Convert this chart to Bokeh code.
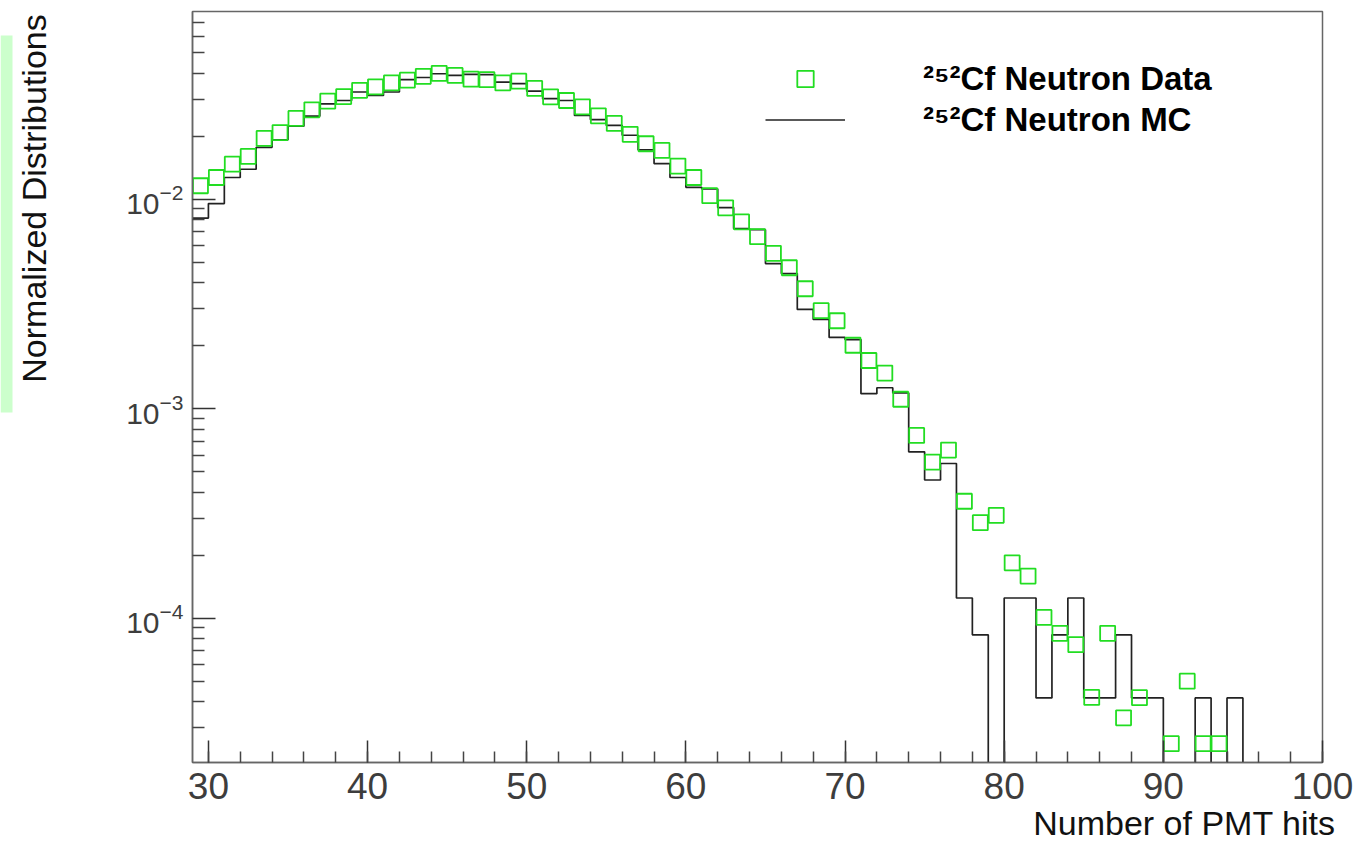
import numpy as np
from bokeh.plotting import figure
from bokeh.layouts import row
from bokeh.models import FixedTicker, Label, Legend, LegendItem, BoxAnnotation, Title
from bokeh.embed import file_html
from bokeh.resources import INLINE

# ---------------- data (bins of width 1, lower edges 29..99) ----------------
bin_lo = list(range(29, 100))

data_vals = [
    0.0116, 0.0127, 0.0147, 0.0160, 0.0195, 0.0208, 0.0243, 0.0267, 0.0294, 0.0309,   # 29-38
    0.0331, 0.0344, 0.0359, 0.0370, 0.0386, 0.0399, 0.0390, 0.0374, 0.0372, 0.0359,   # 39-48
    0.0366, 0.0338, 0.0308, 0.0296, 0.0276, 0.0250, 0.0230, 0.0204, 0.0184, 0.0171,   # 49-58
    0.0144, 0.0127, 0.0104, 0.00910, 0.00779, 0.00663, 0.00552, 0.00471, 0.00374, 0.00294,  # 59-68
    0.00263, 0.00201, 0.00170, 0.00148, 0.00111, 0.000746, 0.000556, 0.000635, 0.000362, 0.000286,  # 69-78
    0.000310, 0.000184, 0.000159, 0.000101, 0.0000848, 0.0000748, 0.0000419, 0.0000848, 0.0000335, 0.0000418,  # 79-88
    0.0, 0.0000252, 0.0000501, 0.0000252, 0.0000252, 0.0, 0.0, 0.0, 0.0, 0.0,   # 89-98
    0.0,   # 99
]

mc_vals = [
    0.00813, 0.00953, 0.0127, 0.0139, 0.0177, 0.0192, 0.0223, 0.0249, 0.0285, 0.0296,   # 29-38
    0.0325, 0.0313, 0.0325, 0.0372, 0.0381, 0.0397, 0.0390, 0.0394, 0.0393, 0.0362,    # 39-48
    0.0356, 0.0328, 0.0302, 0.0296, 0.0251, 0.0240, 0.0225, 0.0202, 0.0172, 0.0148,    # 49-58
    0.0127, 0.0114, 0.0112, 0.00912, 0.00724, 0.00716, 0.00493, 0.00442, 0.00298, 0.00267,  # 59-68
    0.00219, 0.00214, 0.00118, 0.00126, 0.00119, 0.000623, 0.000457, 0.000548, 0.000125, 0.0000834,  # 69-78
    0.0, 0.000125, 0.000125, 0.0000417, 0.0000834, 0.000125, 0.0000417, 0.0000417, 0.0000834, 0.0000417,  # 79-88
    0.0000417, 0.0, 0.0, 0.0000417, 0.0, 0.0000417, 0.0, 0.0, 0.0, 0.0,   # 89-98
    0.0,   # 99
]

x_lim = (29, 100)
y_lim = (2.05e-5, 0.0787)
x_ticks = [30, 40, 50, 60, 70, 80, 90, 100]
x_minor = list(range(30, 101, 2))
y_ticks = [1e-4, 1e-3, 1e-2]
legend_labels = ["\u00b2\u2075\u00b2Cf Neutron Data", "\u00b2\u2075\u00b2Cf Neutron MC"]
x_title = "Number of PMT hits"
y_title = "Normalized Distributions"

GREEN = "#22dd22"
FONT = "Liberation Sans"
H = 848
TOP, BOTTOM = 11, 86   # page margins above / below the plotting frame

# ---------------- derived arrays ----------------
edges = np.array(bin_lo + [bin_lo[-1] + 1], dtype=float)
centers = np.array(bin_lo, dtype=float) + 0.5
dv = np.array(data_vals)
mv = np.array(mc_vals)
floor = y_lim[0] / 10.0  # empty bins drop below the frame, as ROOT draws them
mv_plot = np.where(mv > 0, mv, floor)
step_x = np.repeat(edges, 2)[1:-1]
step_y = np.repeat(mv_plot, 2)
mask = dv > 0

y_minor = [m * 10.0 ** e for e in range(-5, -1) for m in range(2, 10)
           if y_lim[0] <= m * 10.0 ** e <= y_lim[1]]

# ---------------- left strip: y title and green band ----------------
# its y range is in page pixels measured from the bottom of the page
pa = figure(width=100, height=H, x_range=(0, 100), y_range=(BOTTOM, H - TOP),
            x_axis_type=None, y_axis_type=None, output_backend="svg",
            toolbar_location=None, min_border_left=0, min_border_right=0,
            min_border_top=TOP, min_border_bottom=BOTTOM)
pa.outline_line_color = None
pa.background_fill_color = "white"
pa.border_fill_color = "white"
pa.add_layout(BoxAnnotation(left=0, right=12, bottom=H - 412, top=H - 35,
                            fill_color="#ccffcc", fill_alpha=1.0, line_color=None))
pa.add_layout(Label(x=33, y=H - 198, text=y_title, angle=90, angle_units="deg",
                    text_align="center", text_baseline="middle",
                    text_font=FONT, text_font_size="34px", text_color="#111111"))

# ---------------- main plot ----------------
p = figure(width=1260, height=H, x_range=x_lim, y_range=y_lim, y_axis_type="log",
           output_backend="svg", toolbar_location=None,
           min_border_left=92, min_border_right=38, min_border_top=TOP, min_border_bottom=BOTTOM)
p.background_fill_color = "white"
p.border_fill_color = "white"
p.outline_line_color = "#666666"
p.outline_line_width = 1.5
p.xgrid.visible = False
p.ygrid.visible = False

r_mc = p.line(step_x, step_y, line_color="#222222", line_width=1.7)
r_data = p.scatter(centers[mask], dv[mask], marker="square", size=15,
                   fill_color=None, line_color=GREEN, line_width=1.8)

xa = p.xaxis[0]
ya = p.yaxis[0]
xa.ticker = FixedTicker(ticks=x_ticks, minor_ticks=x_minor)
ya.ticker = FixedTicker(ticks=y_ticks, minor_ticks=y_minor)
for ax in (xa, ya):
    ax.axis_line_color = "#666666"
    ax.axis_line_width = 1.5
    ax.major_tick_line_color = "#333333"
    ax.minor_tick_line_color = "#444444"
    ax.major_tick_line_width = 1.5
    ax.minor_tick_line_width = 1.5
    ax.major_tick_out = 0
    ax.minor_tick_out = 0
    ax.major_label_text_font = FONT
    ax.major_label_text_color = "#3d3d3d"
xa.major_tick_in = 22
xa.minor_tick_in = 11
ya.major_tick_in = 23
ya.minor_tick_in = 12
xa.major_label_text_font_size = "37px"
xa.major_label_standoff = 10
ya.major_label_text_font_size = "30px"
ya.major_label_standoff = 9

p.add_layout(Title(text=x_title, align="right", offset=-13, vertical_align="bottom",
                   standoff=0, text_font=FONT, text_font_size="34px",
                   text_font_style="normal", text_color="#111111"), "below")

legend = Legend(items=[LegendItem(label=legend_labels[0], renderers=[r_data]),
                       LegendItem(label=legend_labels[1], renderers=[r_mc])],
                location=(573, 622), glyph_width=80, glyph_height=41, label_height=41,
                spacing=0, padding=0, margin=0, label_standoff=78,
                label_text_font=FONT, label_text_font_style="bold",
                label_text_font_size="33px", label_text_color="#000000",
                border_line_color=None, background_fill_alpha=0)
p.add_layout(legend)

layout = row(pa, p)
open("out.html", "w").write(file_html(layout, INLINE))
